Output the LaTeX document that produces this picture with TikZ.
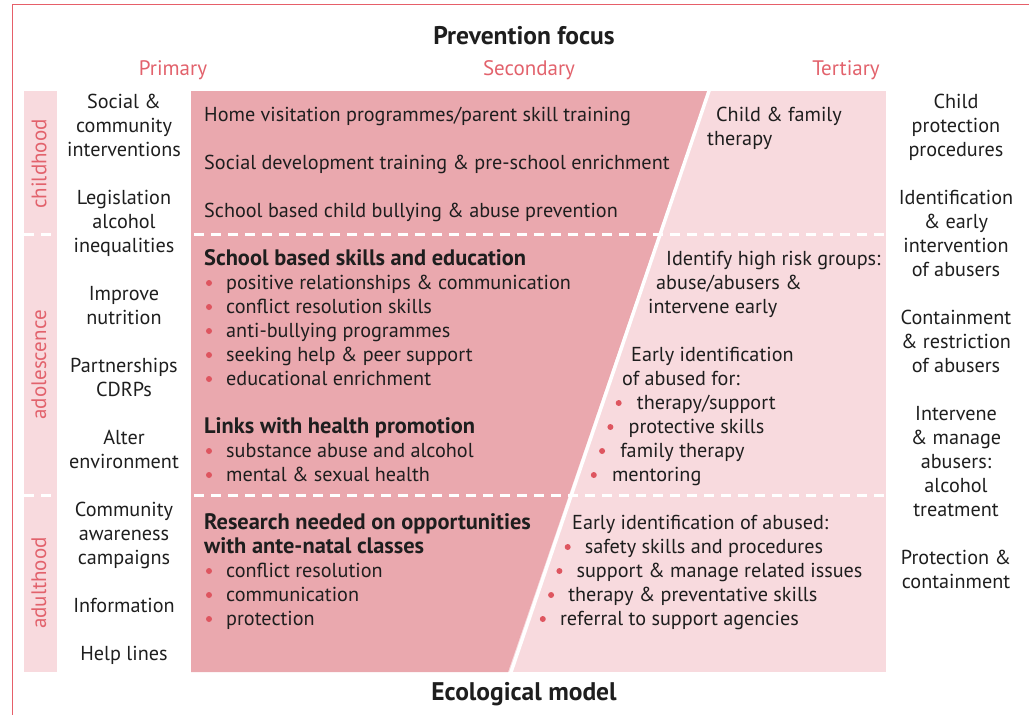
\documentclass[tikz,border=0pt]{standalone}
\usepackage{fontspec}
\setmainfont{PT Sans}
\usepackage{tikz}
\definecolor{darkrose}{RGB}{234,168,174}
\definecolor{lightrose}{RGB}{248,218,222}
\definecolor{headred}{RGB}{226,98,108}
\definecolor{framered}{RGB}{230,95,105}
\definecolor{dotred}{RGB}{222,85,95}
\definecolor{ink}{RGB}{30,30,30}
\begin{document}
\begin{tikzpicture}[x=1pt,y=-1pt,
    mytext/.style={inner sep=0pt,text=ink,font=\fontsize{20.2}{24}\selectfont},
    mybold/.style={inner sep=0pt,text=ink,font=\fontsize{22.4}{24}\selectfont\bfseries},
    mytitle/.style={inner sep=0pt,text=ink,font=\fontsize{25.5}{28}\selectfont\bfseries},
    mylevel/.style={inner sep=0pt,text=headred,font=\fontsize{21}{24}\selectfont},
    mydot/.style={circle,fill=dotred,inner sep=0pt,minimum size=6pt},
    mydash/.style={white,line width=3pt,dash pattern=on 10pt off 7pt}]
        \useasboundingbox (0,0) rectangle (1029,715);

        %frame
        \draw [framered, line width=1pt] (1029,4) -- (12,4) -- (12,715);

        %bands
        \fill [lightrose] (24,91) rectangle (57,672);
        \fill [lightrose] (191,91) rectangle (886,672);
        \fill [darkrose] (191,91) -- (708,91) -- (508,672) -- (191,672) -- cycle;
        \draw [white, line width=3.5pt] (710,88) -- (510,675);
        \draw [mydash] (24,234) -- (886,234);
        \draw [mydash] (24,495) -- (886,495);

        %headings
        \node[mytitle, anchor=base] (focus) at (524,44) {Prevention focus};
        \node[mytitle, anchor=base] (model) at (524,700) {Ecological model};
        \node[mylevel, anchor=base] (prim) at (173,75) {Primary};
        \node[mylevel, anchor=base] (sec) at (529,75) {Secondary};
        \node[mylevel, anchor=base] (ter) at (846,75) {Tertiary};

        %age labels
        \node[mylevel, rotate=90] (child) at (39,164) {childhood};
        \node[mylevel, rotate=90] (adol) at (39,365) {adolescence};
        \node[mylevel, rotate=90] (adult) at (39,583) {adulthood};

        %primary column (base = last line)
        \node[mytext, align=center, anchor=base] (p1) at (124,156) {Social \&\\community\\interventions};
        \node[mytext, align=center, anchor=base] (p2) at (124,252) {Legislation\\alcohol\\inequalities};
        \node[mytext, align=center, anchor=base] (p3) at (124,324) {Improve\\nutrition};
        \node[mytext, align=center, anchor=base] (p4) at (124,396) {Partnerships\\CDRPs};
        \node[mytext, align=center, anchor=base] (p5) at (124,468) {Alter\\environment};
        \node[mytext, align=center, anchor=base] (p6) at (124,564) {Community\\awareness\\campaigns};
        \node[mytext, align=center, anchor=base] (p7) at (124,612) {Information};
        \node[mytext, align=center, anchor=base] (p8) at (124,660) {Help lines};

        %tertiary column
        \node[mytext, align=center, anchor=base] (t1) at (956,156) {Child\\protection\\procedures};
        \node[mytext, align=center, anchor=base] (t2) at (956,276) {Identification\\\& early\\intervention\\of abusers};
        \node[mytext, align=center, anchor=base] (t3) at (956,372) {Containment\\\& restriction\\of abusers};
        \node[mytext, align=center, anchor=base] (t4) at (956,516) {Intervene\\\& manage\\abusers:\\alcohol\\treatment};
        \node[mytext, align=center, anchor=base] (t5) at (956,588) {Protection \&\\containment};

        %childhood row
        \node[mytext, anchor=base west] (home) at (204,121) {Home visitation programmes/parent skill training};
        \node[mytext, anchor=base west] (socdev) at (204,169) {Social development training \& pre-school enrichment};
        \node[mytext, anchor=base west] (bully) at (204,217) {School based child bullying \& abuse prevention};
        \node[mytext, anchor=base west] (fam1) at (716,121) {Child \& family};
        \node[mytext, anchor=base west] (fam2) at (707,145) {therapy};

        %adolescence row
        \node[mybold, anchor=base west] (school) at (204,265) {School based skills and education};
        \foreach \txt [count=\i] in {positive relationships \& communication, conflict resolution skills,
                anti-bullying programmes, seeking help \& peer support, educational enrichment} {
            \node[mydot] (sd\i) at (209,283+24*\i-24) {};
            \node[mytext, anchor=base west] (sb\i) at (226,289+24*\i-24) {\txt};
        }
        \node[mybold, anchor=base west] (links) at (204,433) {Links with health promotion};
        \foreach \txt [count=\i] in {substance abuse and alcohol, mental \& sexual health} {
            \node[mydot] (ld\i) at (209,451+24*\i-24) {};
            \node[mytext, anchor=base west] (lb\i) at (226,457+24*\i-24) {\txt};
        }
        \node[mytext, anchor=base west] (risk1) at (666,265) {Identify high risk groups:};
        \node[mytext, anchor=base west] (risk2) at (656,289) {abuse/abusers \&};
        \node[mytext, anchor=base west] (risk3) at (648,313) {intervene early};
        \node[mytext, anchor=base west] (early1) at (631,361) {Early identification};
        \node[mytext, anchor=base west] (early2) at (622,385) {of abused for:};
        \foreach \txt [count=\i] in {therapy/support, protective skills, family therapy, mentoring} {
            \node[mydot] (ed\i) at (627-8.3*\i,403+24*\i-24) {};
            \node[mytext, anchor=base west] (eb\i) at (645-8.3*\i,409+24*\i-24) {\txt};
        }

        %adulthood row
        \node[mybold, anchor=base west, align=left] (research) at (204,553) {Research needed on opportunities\\with ante-natal classes};
        \foreach \txt [count=\i] in {conflict resolution, communication, protection} {
            \node[mydot] (rd\i) at (209,571+24*\i-24) {};
            \node[mytext, anchor=base west] (rb\i) at (226,577+24*\i-24) {\txt};
        }
        \node[mytext, anchor=base west] (abused) at (572,529) {Early identification of abused:};
        \foreach \txt [count=\i] in {safety skills and procedures, support \& manage related issues,
                therapy \& preventative skills, referral to support agencies} {
            \node[mydot] (ad\i) at (576-8.3*\i,547+24*\i-24) {};
            \node[mytext, anchor=base west] (ab\i) at (593-8.3*\i,553+24*\i-24) {\txt};
        }
\end{tikzpicture}
\end{document}
